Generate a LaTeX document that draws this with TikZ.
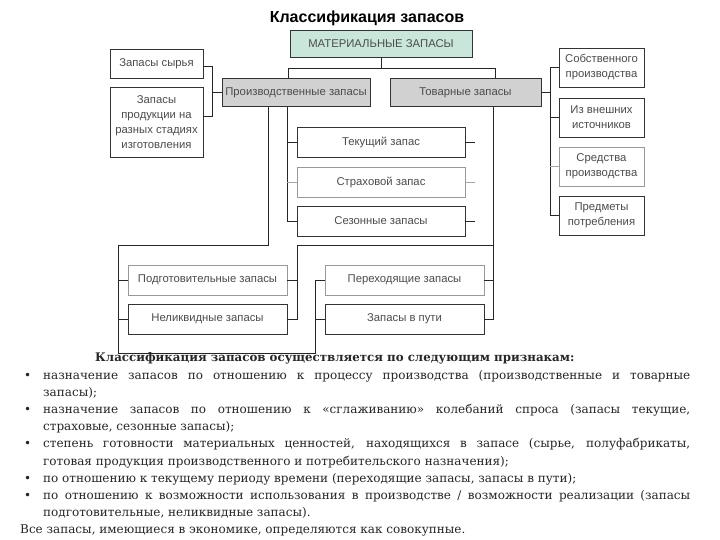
\documentclass[tikz,border=0pt]{standalone}
\usepackage{fontspec}
\setmainfont{DejaVu Serif}
\newfontfamily\diagfont{Liberation Sans}
\usetikzlibrary{calc}
\begin{document}
\begin{tikzpicture}[x=1pt,y=-1pt,
  box/.style={draw=black!80, line width=0.8pt, font=\diagfont\fontsize{11.3}{15}\selectfont, text=black!70, inner sep=1pt, align=center},
  lbox/.style={box, draw=black!40},
  gbox/.style={box, fill=black!18},
  conn/.style={draw=black!85, line width=0.8pt},
  lconn/.style={draw=black!35, line width=0.8pt},
  txt/.style={anchor=base west, inner sep=0pt, font=\fontsize{12}{15}\selectfont, text=black!85}]
\useasboundingbox (0,0) rectangle (720,540);
\fill[white] (0,0) rectangle (720,540);
\node[font=\diagfont\bfseries\fontsize{16}{18}\selectfont] (title) at (367,18) {Классификация запасов};
\node[box, fill={rgb,255:red,200;green,230;blue,218}, minimum width=182pt, minimum height=27pt] (mat) at (381,43.5) {МАТЕРИАЛЬНЫЕ ЗАПАСЫ};
\node[box, minimum width=93pt, minimum height=29pt] (syr) at (156.5,63.5) {Запасы сырья};
\node[box, minimum width=93pt, minimum height=70pt] (prod) at (156.5,122) {Запасы\\продукции на\\разных стадиях\\изготовления};
\node[gbox, minimum width=148pt, minimum height=28pt] (pz) at (296,92.5) {Производственные запасы};
\node[gbox, minimum width=151pt, minimum height=28pt] (tz) at (465.5,92.5) {Товарные запасы};
\node[box, minimum width=85pt, minimum height=39pt] (sob) at (601.5,67.5) {Собственного\\производства};
\node[box, minimum width=85pt, minimum height=39pt] (vne) at (601.5,117.5) {Из внешних\\источников};
\node[lbox, minimum width=85pt, minimum height=39pt] (sre) at (601.5,166.5) {Средства\\производства};
\node[box, minimum width=85pt, minimum height=39pt] (pot) at (601.5,215.5) {Предметы\\потребления};
\node[box, minimum width=168pt, minimum height=30pt] (tek) at (381,142) {Текущий запас};
\node[lbox, minimum width=168pt, minimum height=30pt] (str) at (381,182) {Страховой запас};
\node[box, minimum width=168pt, minimum height=30pt] (sez) at (381,221) {Сезонные запасы};
\node[lbox, minimum width=159pt, minimum height=30pt] (pod) at (207.5,280) {Подготовительные запасы};
\node[box, minimum width=159pt, minimum height=30pt] (nel) at (207.5,319) {Неликвидные запасы};
\node[lbox, minimum width=159pt, minimum height=30pt] (per) at (404.5,280) {Переходящие запасы};
\node[box, minimum width=159pt, minimum height=30pt] (put) at (404.5,319) {Запасы в пути};
% top connectors
\coordinate (jl) at (288,68);
\coordinate (jr) at (495,68);
\draw[conn] (mat.south) -- (mat.south |- jl);
\draw[conn] (jl) -- (jr);
\draw[conn] (jl) -- (jl |- pz.north);
\draw[conn] (jr) -- (jr |- tz.north);
% left small boxes
\coordinate (xh) at (212,0);
\coordinate (ys) at (0,66);
\coordinate (yp) at (0,116);
\draw[conn] (syr.east |- ys) -- (xh |- ys) -- (xh |- yp) -- (prod.east |- yp);
\draw[conn] (xh |- pz.west) -- (pz.west);
% production -> current/safety/seasonal
\coordinate (xa) at (287,0);
\draw[conn] (xa |- pz.south) -- (xa |- sez.west) -- (sez.west);
\draw[conn] (xa |- tek.west) -- (tek.west);
\draw[lconn] (xa |- str.west) -- (str.west);
\draw[conn] (tek.east) -- ++(10,0);
\draw[lconn] (str.east) -- ++(10,0);
\draw[conn] (sez.east) -- ++(10,0);
% production -> lower groups
\coordinate (xb) at (268,0);
\coordinate (xc) at (118,0);
\coordinate (xd) at (315,0);
\coordinate (yb) at (0,245);
\coordinate (ybot) at (0,353);
\draw[conn] (xb |- pz.south) -- (xb |- yb) -- (xc |- yb) -- (xc |- ybot) -- (xd |- ybot) -- (xd |- per.west) -- (per.west);
\draw[conn] (xc |- pod.west) -- (pod.west);
\draw[conn] (xc |- nel.west) -- (nel.west);
\draw[conn] (xd |- put.west) -- (put.west);
% trade -> lower groups
\coordinate (xe) at (493,0);
\coordinate (xf) at (297,0);
\draw[conn] (xe |- tz.south) -- (xe |- put.east) -- (put.east);
\draw[conn] (xe |- per.east) -- (per.east);
\draw[conn] (xe |- yb) -- (xf |- yb) -- (xf |- nel.east) -- (nel.east);
\draw[conn] (xf |- pod.east) -- (pod.east);
% trade -> right
\coordinate (xg) at (550,0);
\draw[conn] (tz.east) -- (xg |- tz.east);
\draw[conn] (xg |- sob.west) -- (xg |- pot.west);
\draw[conn] (xg |- sob.west) -- (sob.west);
\draw[conn] (xg |- vne.west) -- (vne.west);
\draw[lconn] (xg |- sre.west) -- (sre.west);
\draw[conn] (xg |- pot.west) -- (pot.west);
% text block
\node[txt, font=\bfseries\fontsize{11.8}{15}\selectfont] (h) at (95,361) {Классификация запасов осуществляется по следующим признакам:};
\node[txt] (b1) at (24,379) {•};
\node[txt] (l1) at (43,379) {\hbox to 647pt{назначение запасов по отношению к процессу производства (производственные и товарные}};
\node[txt] (l2) at (43,396.2) {запасы);};
\node[txt] (b2) at (24,413.4) {•};
\node[txt] (l3) at (43,413.4) {\hbox to 647pt{назначение запасов по отношению к «сглаживанию» колебаний спроса (запасы текущие,}};
\node[txt] (l4) at (43,430.6) {страховые, сезонные запасы);};
\node[txt] (b3) at (24,447.8) {•};
\node[txt] (l5) at (43,447.8) {\hbox to 647pt{степень готовности материальных ценностей, находящихся в запасе (сырье, полуфабрикаты,}};
\node[txt] (l6) at (43,465) {готовая продукция производственного и потребительского назначения);};
\node[txt] (b4) at (24,482.2) {•};
\node[txt] (l7) at (43,482.2) {по отношению к текущему периоду времени (переходящие запасы, запасы в пути);};
\node[txt] (b5) at (24,499.4) {•};
\node[txt] (l8) at (43,499.4) {\hbox to 647pt{по отношению к возможности использования в производстве / возможности реализации (запасы}};
\node[txt] (l9) at (43,516.6) {подготовительные, неликвидные запасы).};
\node[txt] (l10) at (20,533.8) {Все запасы, имеющиеся в экономике, определяются как совокупные.};
\end{tikzpicture}
\end{document}
